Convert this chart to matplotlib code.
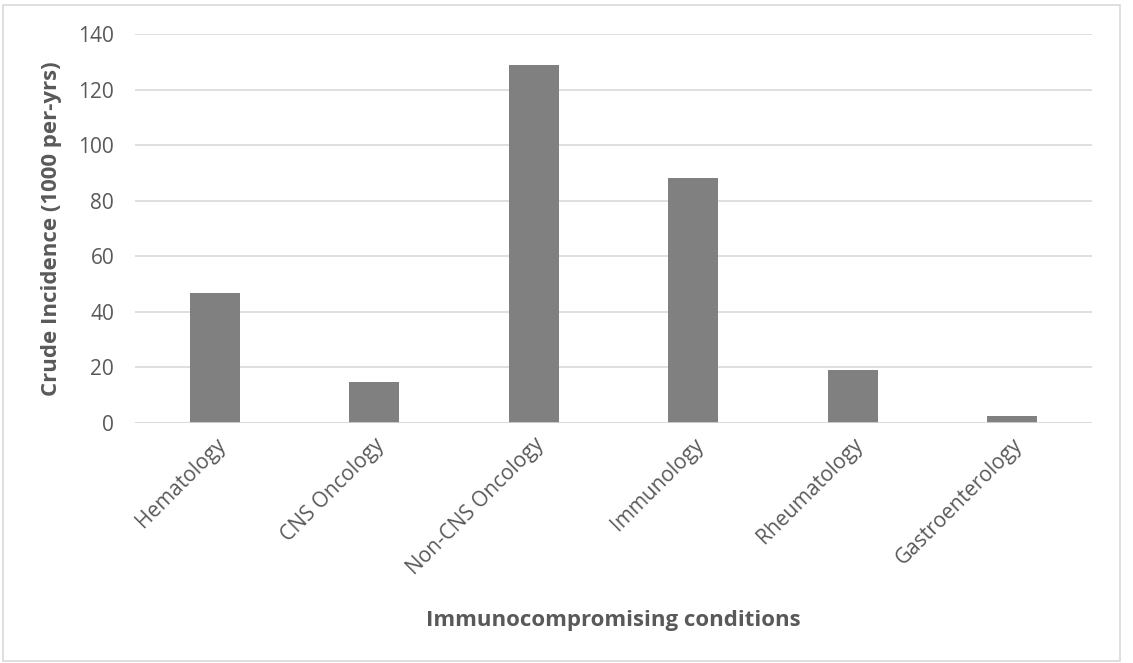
import matplotlib.pyplot as plt
from matplotlib.patches import Rectangle

plt.rcParams['font.family'] = ['Open Sans', 'DejaVu Sans']

conditions = ["Hematology", "CNS Oncology", "Non-CNS Oncology",
              "Immunology", "Rheumatology", "Gastroenterology"]
incidence = [46.9, 14.7, 128.9, 88.1, 19.1, 2.5]
yticks = [0, 20, 40, 60, 80, 100, 120, 140]

txt = "#595959"

fig = plt.figure(figsize=(11.33, 6.63), dpi=100)
ax = fig.add_axes([135 / 1133, 1 - 423 / 663, (1092 - 135) / 1133, (423 - 34) / 663])

x = range(len(conditions))
ax.bar(x, incidence, width=0.315, color="#808080", zorder=3)

ax.set_xlim(-0.5, len(conditions) - 0.5)
ax.set_ylim(0, 140)
ax.set_yticks(yticks)
ax.yaxis.grid(True, color="#d9d9d9", linewidth=1.2, zorder=0)
ax.axhline(0, color="#d9d9d9", linewidth=1.2, zorder=4)
for s in ax.spines.values():
    s.set_visible(False)
ax.tick_params(axis="both", length=0, labelsize=15, colors=txt)
ax.tick_params(axis="y", pad=15)
ax.set_xticks(list(x))
ax.set_xticklabels(conditions, rotation=45, ha="right", rotation_mode="anchor")
ax.tick_params(axis="x", pad=8)

# axis titles
ax.set_ylabel("Crude Incidence (1000 per-yrs)", fontsize=16, fontweight="bold", color=txt)
ax.yaxis.set_label_coords(-0.076, 0.5)
ax.set_xlabel("Immunocompromising conditions", fontsize=16, fontweight="bold", color=txt)
ax.xaxis.set_label_coords(0.5, (423 - 610) / 389)

fig.patches.append(Rectangle((3 / 1133, 2 / 663), 1117 / 1133, 656 / 663, transform=fig.transFigure,
                             fill=False, edgecolor="#d9d9d9", linewidth=1.2))

fig.savefig("out.png", dpi=100)
